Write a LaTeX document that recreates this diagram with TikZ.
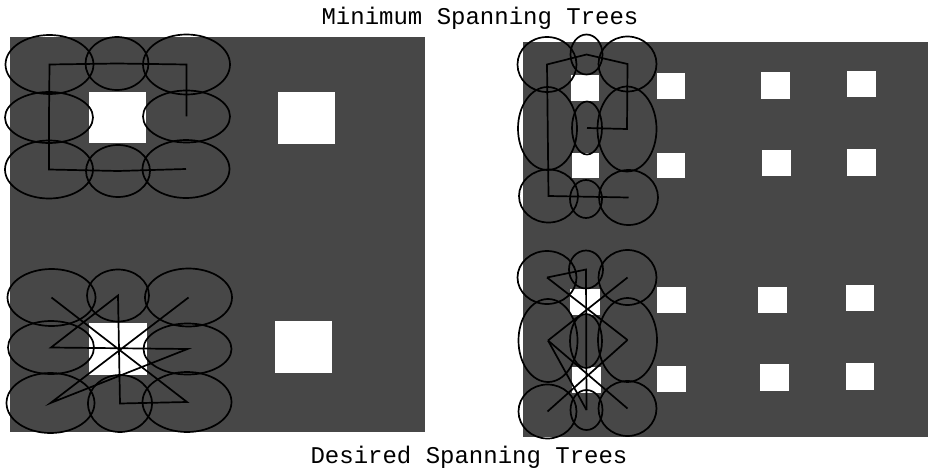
\documentclass[tikz,border=0pt]{standalone}
\usepackage{fontspec}
\newfontfamily\capfont{Liberation Mono}
\usetikzlibrary{shapes.geometric}
\definecolor{panel}{HTML}{474747}
\tikzset{
  el/.style 2 args={ellipse, draw=black, line width=1.7pt, inner sep=0pt, minimum width=#1*2pt, minimum height=#2*2pt},
  tree/.style={draw=black, line width=1.7pt, line join=miter},
  hole/.style={fill=white},
  captext/.style={anchor=base, font=\capfont\fontsize{24}{24}\selectfont, inner sep=0pt}
}
\begin{document}
\begin{tikzpicture}[x=1pt, y=-1pt]
\useasboundingbox (0,0) rectangle (928,468);
% panels
\fill[panel] (10,37) rectangle (425,432);
\fill[panel] (523,42) rectangle (928,437);
% left panel holes
\fill[hole] (89,92) rectangle (146,143);
\fill[hole] (278,92) rectangle (335,144);
\fill[hole] (89,323) rectangle (147,375);
\fill[hole] (275,321) rectangle (332,373);
% right panel holes
\fill[hole] (571,75) rectangle (599,101);
\fill[hole] (657,73) rectangle (685,99);
\fill[hole] (761,72) rectangle (790,99);
\fill[hole] (847,71) rectangle (876,97);
\fill[hole] (572,153) rectangle (599,178);
\fill[hole] (657,153) rectangle (685,178);
\fill[hole] (762,150) rectangle (791,176);
\fill[hole] (847,149) rectangle (876,176);
\fill[hole] (570,289) rectangle (600,315);
\fill[hole] (657,287) rectangle (686,313);
\fill[hole] (758,287) rectangle (787,313);
\fill[hole] (846,285) rectangle (874,311);
\fill[hole] (572,367) rectangle (601,393);
\fill[hole] (657,366) rectangle (686,392);
\fill[hole] (760,364) rectangle (789,391);
\fill[hole] (846,363) rectangle (874,390);
% left top ellipses
\node[el={44}{29.5}] (a1) at (49.5,64.5) {};
\node[el={31.5}{26.5}] (a2) at (117,63.5) {};
\node[el={43.5}{30}] (a3) at (186.5,64.5) {};
\node[el={44}{25.5}] (a4) at (49,117.5) {};
\node[el={43.5}{26}] (a5) at (186.5,116.5) {};
\node[el={44}{29}] (a6) at (49,169.5) {};
\node[el={32}{26}] (a7) at (118,171) {};
\node[el={43.5}{29}] (a8) at (186,169) {};
\draw[tree] (a5.center) -- (a3.center) -- (a2.center) -- (a1.center) -- (a4.center) -- (a6.center) -- (a7.center) -- (a8.center);
% left bottom ellipses
\node[el={44}{28.5}] (b1) at (51.5,297.5) {};
\node[el={31}{26}] (b2) at (118,295.5) {};
\node[el={43.5}{29}] (b3) at (188.5,297.5) {};
\node[el={43}{26.5}] (b4) at (51,347.5) {};
\node[el={44}{25.5}] (b5) at (187.5,349) {};
\node[el={44}{30}] (b6) at (50.5,403) {};
\node[el={32}{28.5}] (b7) at (120,403.5) {};
\node[el={44.5}{30}] (b8) at (187,402) {};
\draw[tree] (b1.center) -- (b8.center) -- (b7.center) -- (b2.center) -- (b4.center) -- (b5.center) -- (b6.center) -- (b3.center);
% right top ellipses
\node[el={29.5}{27.5}] (c1) at (547,64.5) {};
\node[el={16}{20}] (c2) at (586.5,54.5) {};
\node[el={29}{27.5}] (c3) at (627.5,64) {};
\node[el={29.5}{41.5}] (c4) at (547.5,128.5) {};
\node[el={15}{26.5}] (c5) at (587,128) {};
\node[el={29.5}{42.5}] (c6) at (627,129) {};
\node[el={29.5}{26.5}] (c7) at (548.5,196) {};
\node[el={16}{19}] (c8) at (586,199) {};
\node[el={29.5}{27.5}] (c9) at (628.5,197.5) {};
\draw[tree] (c5.center) -- (c6.center) -- (c3.center) -- (c2.center) -- (c1.center) -- (c7.center) -- (c9.center);
% right bottom ellipses
\node[el={29.5}{26.5}] (d1) at (547,277.5) {};
\node[el={17}{19}] (d2) at (586,269.5) {};
\node[el={29}{27.5}] (d3) at (627.5,277.5) {};
\node[el={29.5}{41.5}] (d4) at (548,340.5) {};
\node[el={16}{27}] (d5) at (586,341) {};
\node[el={29.5}{42}] (d6) at (627.5,340) {};
\node[el={29}{27}] (d7) at (547.5,411.5) {};
\node[el={16}{20}] (d8) at (586.5,410) {};
\node[el={29}{27.5}] (d9) at (627.5,408.5) {};
\draw[tree] (d1.center) -- (d2.center) -- (d8.center);
\draw[tree] (d1.center) -- (d6.center);
\draw[tree] (d3.center) -- (d4.center);
\draw[tree] (d4.center) -- (d9.center);
\draw[tree] (d6.center) -- (d7.center);
\draw[tree] (d4.center) -- (d8.center);
% captions
\node[captext] (t1) at (480,25) {Minimum Spanning Trees};
\node[captext] (t2) at (469,463) {Desired Spanning Trees};
\end{tikzpicture}
\end{document}
